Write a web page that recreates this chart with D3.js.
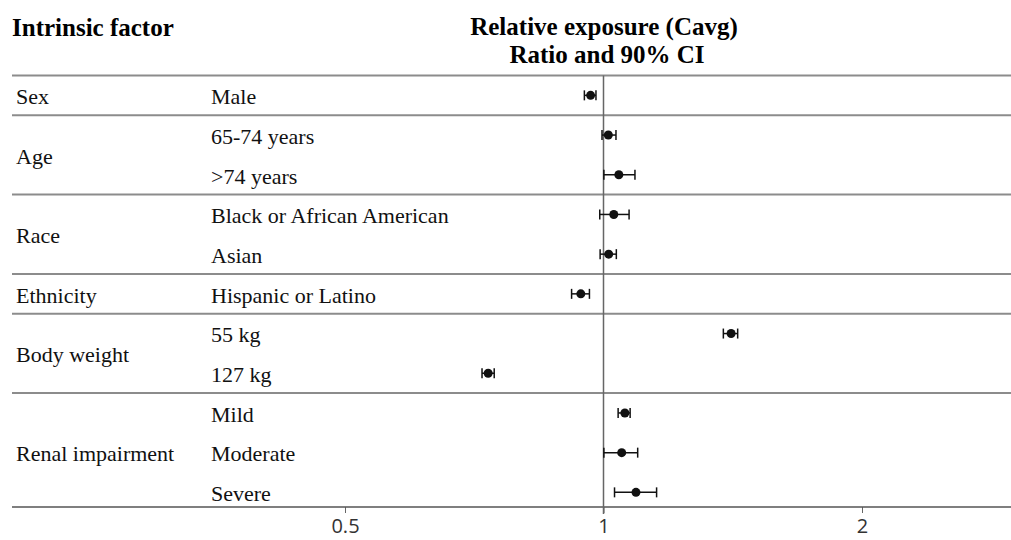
<!DOCTYPE html>
<html>
<head>
<meta charset="utf-8">
<script src="https://cdn.jsdelivr.net/npm/d3@7"></script>
<style>
  body { margin: 0; background: #fff; }
</style>
</head>
<body>
<div class="chart"></div>
<script>
//data
const groups = ["Sex", "Age", "Age", "Race", "Race", "Ethnicity", "Body weight", "Body weight", "Renal impairment", "Renal impairment", "Renal impairment"];
const items = ["Male", "65-74 years", ">74 years", "Black or African American", "Asian", "Hispanic or Latino", "55 kg", "127 kg", "Mild", "Moderate", "Severe"];
const ratio = [0.966, 1.013, 1.042, 1.028, 1.014, 0.941, 1.408, 0.734, 1.059, 1.050, 1.091];
const lower = [0.950, 0.996, 1.001, 0.990, 0.991, 0.918, 1.379, 0.722, 1.040, 1.001, 1.030];
const upper = [0.980, 1.034, 1.088, 1.071, 1.035, 0.963, 1.433, 0.746, 1.074, 1.096, 1.153];
const tickValues = [0.5, 1, 2];

const width = 1011, height = 540;

const rows = items.map((d, i) => ({group: groups[i], item: items[i], ratio: ratio[i], lower: lower[i], upper: upper[i], idx: i}));

//create svg
const svg = d3.select('.chart')
    .append('svg')
    .attr('width', width)
    .attr('height', height)
    .style('display', 'block');

//scales
const xScale = d3.scaleLog()
    .base(2)
    .domain([0.5, 2])
    .range([345, 862]);

const yScale = d3.scaleBand()
    .domain(d3.range(items.length))
    .range([75.5, 75.5 + 39.7 * items.length]);

const yMid = i => yScale(i) + yScale.bandwidth() / 2;

const serif = "'Liberation Serif', 'Times New Roman', serif";

//headers
svg.append('text')
    .attr('x', 12)
    .attr('y', 36)
    .attr('font-family', serif)
    .attr('font-weight', 'bold')
    .attr('font-size', 25)
    .text('Intrinsic factor');

svg.append('text')
    .attr('x', 604)
    .attr('y', 35)
    .attr('text-anchor', 'middle')
    .attr('font-family', serif)
    .attr('font-weight', 'bold')
    .attr('font-size', 25)
    .text('Relative exposure (Cavg)');

svg.append('text')
    .attr('x', 607)
    .attr('y', 63)
    .attr('text-anchor', 'middle')
    .attr('font-family', serif)
    .attr('font-weight', 'bold')
    .attr('font-size', 25)
    .text('Ratio and 90% CI');

//separator lines: top and after every group
const groupNames = Array.from(new Set(groups));
const groupEnds = groupNames.map(g => d3.max(rows.filter(r => r.group === g), r => r.idx));
const sepY = [yScale(0)].concat(groupEnds.slice(0, -1).map(i => yScale(i) + yScale.bandwidth()));

svg.append('g')
    .selectAll('line')
    .data(sepY)
    .join('line')
    .attr('x1', 12)
    .attr('x2', width)
    .attr('y1', d => d)
    .attr('y2', d => d)
    .attr('stroke', '#8c8c8c')
    .attr('stroke-width', 2);

//x axis at the bottom
const axisY = 507;
svg.append('g')
    .attr('transform', `translate(0,${axisY})`)
    .call(d3.axisBottom(xScale).tickValues(tickValues).tickFormat(d3.format('')).tickSize(6).tickPadding(6))
    .call(g => g.select('.domain').remove())
    .call(g => g.selectAll('.tick line').attr('stroke', '#666').attr('stroke-width', 1))
    .call(g => g.selectAll('.tick text')
        .attr('font-family', "'Open Sans', 'DejaVu Sans', sans-serif")
        .attr('font-size', 20)
        .attr('fill', '#333'));

svg.append('line')
    .attr('x1', 12)
    .attr('x2', width)
    .attr('y1', axisY)
    .attr('y2', axisY)
    .attr('stroke', '#555')
    .attr('stroke-width', 1.5);

//reference line at ratio 1
svg.append('line')
    .attr('x1', xScale(1))
    .attr('x2', xScale(1))
    .attr('y1', yScale(0))
    .attr('y2', axisY + 7)
    .attr('stroke', '#666')
    .attr('stroke-width', 1.5);

//group labels centred on their rows
svg.append('g')
    .selectAll('text')
    .data(groupNames)
    .join('text')
    .attr('x', 16)
    .attr('y', g => d3.mean(rows.filter(r => r.group === g), r => yMid(r.idx)))
    .attr('dy', '0.4em')
    .attr('font-family', serif)
    .attr('font-size', 22)
    .attr('fill', '#111')
    .text(g => g);

//item labels
svg.append('g')
    .selectAll('text')
    .data(rows)
    .join('text')
    .attr('x', 211)
    .attr('y', d => yMid(d.idx))
    .attr('dy', '0.4em')
    .attr('font-family', serif)
    .attr('font-size', 22)
    .attr('fill', '#111')
    .text(d => d.item);

//error bars with caps and points
const marks = svg.append('g')
    .selectAll('g')
    .data(rows)
    .join('g')
    .attr('transform', d => `translate(0,${yMid(d.idx)})`);

marks.append('line')
    .attr('x1', d => xScale(d.lower))
    .attr('x2', d => xScale(d.upper))
    .attr('stroke', '#111')
    .attr('stroke-width', 1.5);

marks.selectAll('.cap')
    .data(d => [d.lower, d.upper])
    .join('line')
    .attr('class', 'cap')
    .attr('x1', v => xScale(v))
    .attr('x2', v => xScale(v))
    .attr('y1', -5)
    .attr('y2', 5)
    .attr('stroke', '#111')
    .attr('stroke-width', 1.5);

marks.append('circle')
    .attr('cx', d => xScale(d.ratio))
    .attr('r', 4.5)
    .attr('fill', '#111');
</script>
</body>
</html>
